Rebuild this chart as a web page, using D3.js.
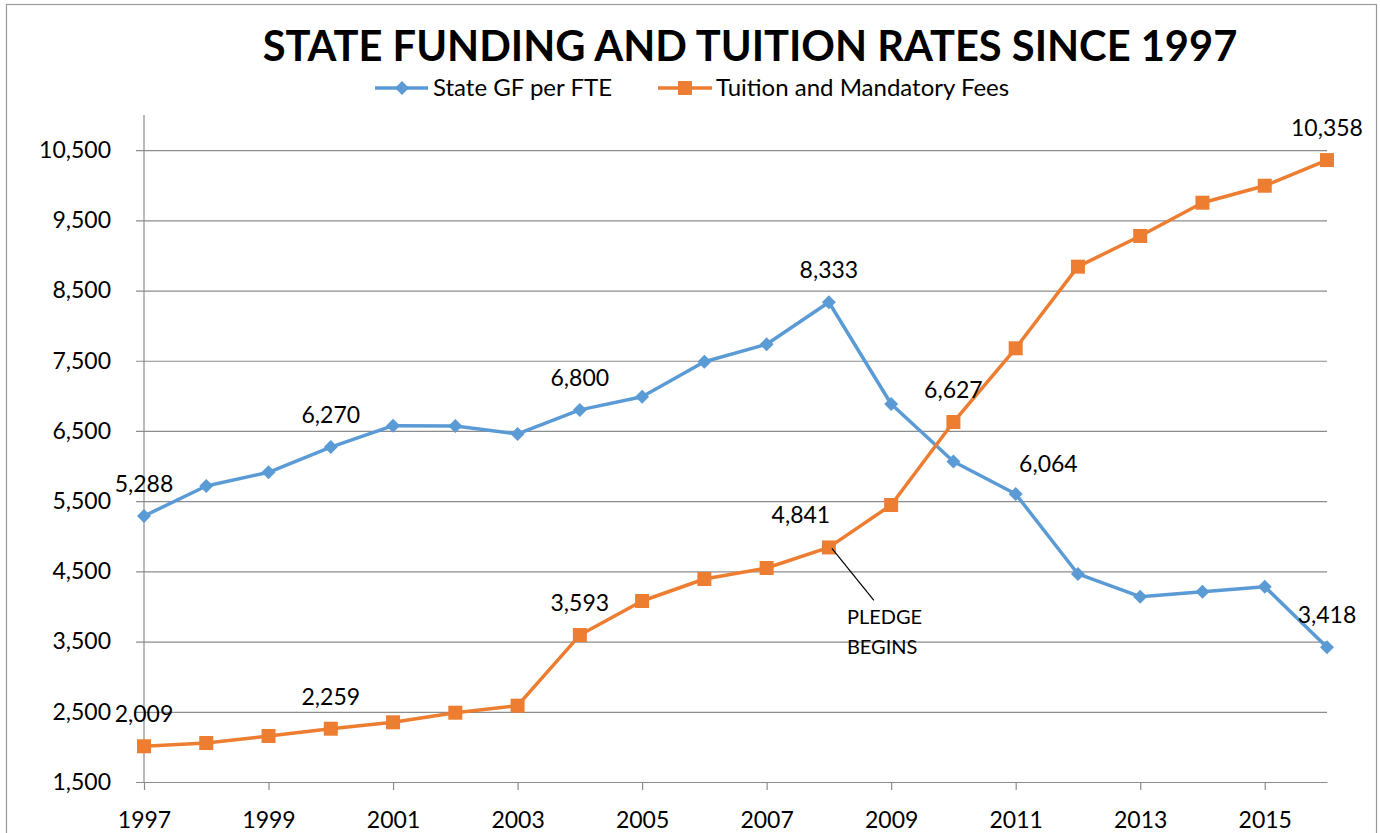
<!DOCTYPE html>
<html>
<head>
<meta charset="utf-8">
<script src="https://cdn.jsdelivr.net/npm/d3@7"></script>
<style>
  body { margin: 0; background: #fff; }
  svg { display: block; font-family: Lato, "Open Sans", sans-serif; }
</style>
</head>
<body>
<div id="chart-area"></div>
<script>
// data
var years = [1997, 1998, 1999, 2000, 2001, 2002, 2003, 2004, 2005, 2006,
             2007, 2008, 2009, 2010, 2011, 2012, 2013, 2014, 2015, 2016];
var stateGF = [5288, 5716, 5911, 6270, 6575, 6570, 6457, 6800, 6988, 7486,
               7734, 8333, 6884, 6064, 5602, 4463, 4139, 4210, 4282, 3418];
var tuition = [2009, 2055, 2155, 2259, 2350, 2487, 2587, 3593, 4078, 4391,
               4548, 4841, 5445, 6627, 7677, 8840, 9277, 9751, 9993, 10358];
var yTicks = [1500, 2500, 3500, 4500, 5500, 6500, 7500, 8500, 9500, 10500];
var xTicks = [1997, 1999, 2001, 2003, 2005, 2007, 2009, 2011, 2013, 2015];
var stateLabelYears = [1997, 2000, 2004, 2008, 2010, 2016];
var tuitionLabelYears = [1997, 2000, 2004, 2008, 2010, 2016];

var W = 1380, H = 833;
var margin = { left: 144, right: 53, top: 115, bottom: 51 };
var width = W - margin.left - margin.right,
    height = H - margin.top - margin.bottom;

var blue = "#5B9BD5", orange = "#ED7D31", grid = "#8c8c8c";
var fmt = d3.format(",");

var svg = d3.select("#chart-area")
    .append("svg")
        .attr("width", W)
        .attr("height", H);

// outer chart frame
svg.append("rect")
    .attr("x", 6.5).attr("y", 4.5)
    .attr("width", 1370).attr("height", 900)
    .attr("fill", "none")
    .attr("stroke", "#999")
    .attr("stroke-width", 1.2);

// title
var title = svg.append("text")
    .attr("x", 750)
    .attr("y", 61)
    .attr("text-anchor", "middle")
    .attr("font-size", "43px")
    .attr("font-weight", "bold")
    .text("STATE FUNDING AND TUITION RATES SINCE 1997");
var tw = title.node().getComputedTextLength();
title.attr("font-size", (43 * 975 / tw) + "px");

var g = svg.append("g")
    .attr("transform", "translate(" + margin.left + "," + margin.top + ")");

var x = d3.scalePoint()
    .domain(years)
    .range([0, width]);

var y = d3.scaleLinear()
    .domain([1500, 11000])
    .range([height, 0]);

// gridlines + y tick labels
var yAxisCall = d3.axisLeft(y)
    .tickValues(yTicks)
    .tickSize(width + 8)
    .tickPadding(25)
    .tickFormat(fmt);

var yAxis = g.append("g")
    .attr("class", "y axis")
    .attr("transform", "translate(" + width + ",0)")
    .call(yAxisCall);
yAxis.select(".domain").remove();
yAxis.selectAll("line").attr("stroke", grid).attr("stroke-width", 1.2);
yAxis.selectAll("text")
    .attr("font-size", "23px")
    .attr("font-family", "Lato, sans-serif")
    .attr("fill", "#000");

// vertical axis line
g.append("line")
    .attr("x1", 0).attr("x2", 0)
    .attr("y1", 0).attr("y2", height)
    .attr("stroke", grid)
    .attr("stroke-width", 1.2);

// x axis
var xAxisCall = d3.axisBottom(x)
    .tickValues(xTicks)
    .tickSize(8)
    .tickSizeOuter(0)
    .tickPadding(22);

var xAxis = g.append("g")
    .attr("class", "x axis")
    .attr("transform", "translate(0," + height + ")")
    .call(xAxisCall);
xAxis.select(".domain").attr("stroke", grid).attr("stroke-width", 1.2);
xAxis.selectAll("line").attr("stroke", grid).attr("stroke-width", 1.2);
xAxis.selectAll("text")
    .attr("font-size", "23px")
    .attr("font-family", "Lato, sans-serif")
    .attr("fill", "#000");

var line = d3.line()
    .x((d, i) => x(years[i]))
    .y(d => y(d));

var diamond = (cx, cy, r) =>
    "M" + cx + "," + (cy - r) + "L" + (cx + r) + "," + cy +
    "L" + cx + "," + (cy + r) + "L" + (cx - r) + "," + cy + "Z";

// State GF per FTE
g.append("path")
    .datum(stateGF)
    .attr("d", line)
    .attr("fill", "none")
    .attr("stroke", blue)
    .attr("stroke-width", 3.5)
    .attr("stroke-linejoin", "round");

g.selectAll(".dia")
    .data(stateGF)
    .enter()
    .append("path")
        .attr("class", "dia")
        .attr("d", (d, i) => diamond(x(years[i]), y(d), 7))
        .attr("fill", blue);

// Tuition and Mandatory Fees
g.append("path")
    .datum(tuition)
    .attr("d", line)
    .attr("fill", "none")
    .attr("stroke", orange)
    .attr("stroke-width", 3.5)
    .attr("stroke-linejoin", "round");

g.selectAll(".sq")
    .data(tuition)
    .enter()
    .append("rect")
        .attr("class", "sq")
        .attr("x", (d, i) => x(years[i]) - 7)
        .attr("y", d => y(d) - 7)
        .attr("width", 14)
        .attr("height", 14)
        .attr("fill", orange);

// data labels (6,064 and 4,841 were nudged in the original)
var nudge = { "s2010": [95, 34], "t2008": [-28, 0] };

function addLabels(values, labelYears, key) {
    labelYears.forEach(yr => {
        var i = years.indexOf(yr);
        var n = nudge[key + yr] || [0, 0];
        g.append("text")
            .attr("x", x(yr) + n[0])
            .attr("y", y(values[i]) - 24 + n[1])
            .attr("text-anchor", "middle")
            .attr("font-size", "23px")
            .text(fmt(values[i]));
    });
}
addLabels(stateGF, stateLabelYears, "s");
addLabels(tuition, tuitionLabelYears, "t");

// pledge callout
var px = x(2008), py = y(tuition[years.indexOf(2008)]);
g.append("line")
    .attr("x1", px + 3).attr("y1", py + 1)
    .attr("x2", px + 45).attr("y2", py + 53)
    .attr("stroke", "#000")
    .attr("stroke-width", 1.2);
g.append("text")
    .attr("x", px + 18)
    .attr("y", py + 77)
    .attr("font-size", "20px")
    .text("PLEDGE");
g.append("text")
    .attr("x", px + 18)
    .attr("y", py + 107)
    .attr("font-size", "20px")
    .text("BEGINS");

// legend
var legend = svg.append("g").attr("class", "legend");
legend.append("line")
    .attr("x1", 375).attr("x2", 428)
    .attr("y1", 88).attr("y2", 88)
    .attr("stroke", blue).attr("stroke-width", 3.5);
legend.append("path")
    .attr("d", diamond(402, 88, 7))
    .attr("fill", blue);
legend.append("text")
    .attr("x", 433).attr("y", 96)
    .attr("font-size", "24px")
    .text("State GF per FTE");

legend.append("line")
    .attr("x1", 658).attr("x2", 712)
    .attr("y1", 88).attr("y2", 88)
    .attr("stroke", orange).attr("stroke-width", 3.5);
legend.append("rect")
    .attr("x", 678).attr("y", 81)
    .attr("width", 14).attr("height", 14)
    .attr("fill", orange);
legend.append("text")
    .attr("x", 716).attr("y", 96)
    .attr("font-size", "24px")
    .text("Tuition and Mandatory Fees");
</script>
</body>
</html>
